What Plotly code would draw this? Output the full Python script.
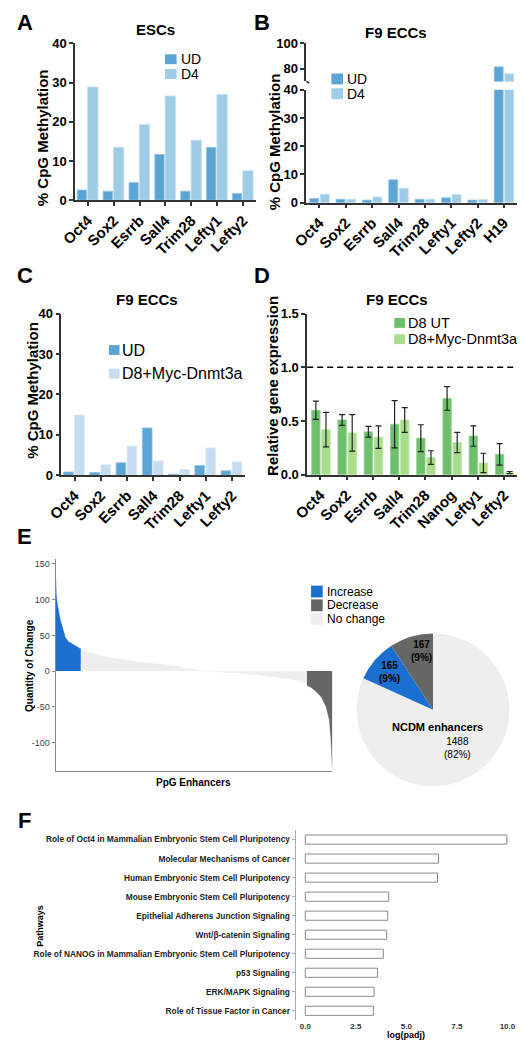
import plotly.graph_objects as go

# ---------------- data ----------------
genes_a = ["Oct4", "Sox2", "Esrrb", "Sall4", "Trim28", "Lefty1", "Lefty2"]
esc_ud = [2.6, 2.3, 4.5, 11.7, 2.3, 13.5, 1.7]
esc_d4 = [28.9, 13.5, 19.3, 26.6, 15.3, 27.0, 7.5]

genes_b = ["Oct4", "Sox2", "Esrrb", "Sall4", "Trim28", "Lefty1", "Lefty2", "H19"]
f9_ud = [1.5, 1.2, 0.9, 8.1, 1.2, 1.7, 0.9, 81.5]
f9_d4 = [3.0, 1.2, 2.0, 5.1, 1.2, 2.9, 1.1, 76.0]

genes_c = ["Oct4", "Sox2", "Esrrb", "Sall4", "Trim28", "Lefty1", "Lefty2"]
c_ud = [0.8, 0.65, 3.1, 11.7, 0.25, 2.4, 1.1]
c_d8 = [14.9, 2.6, 7.2, 3.5, 1.4, 6.75, 3.3]

genes_d = ["Oct4", "Sox2", "Esrrb", "Sall4", "Trim28", "Nanog", "Lefty1", "Lefty2"]
d_ut = [0.60, 0.51, 0.40, 0.47, 0.34, 0.71, 0.36, 0.19]
d_ut_err = [0.085, 0.05, 0.05, 0.22, 0.125, 0.11, 0.095, 0.10]
d_myc = [0.42, 0.39, 0.35, 0.51, 0.16, 0.30, 0.11, 0.02]
d_myc_err = [0.16, 0.17, 0.105, 0.115, 0.063, 0.095, 0.09, 0.01]

# panel E: sorted change of PpG enhancers (index along x, quantity of change)
inc_idx = [0, 2, 4, 10, 21, 30, 42, 52, 64, 85, 116, 140, 165]
inc_val = [130, 115, 108, 95, 81, 72, 63, 55, 47, 41, 37, 34, 31]
none_idx = [165, 200, 265, 350, 450, 562, 689, 795, 880, 960, 1050, 1113, 1219, 1325, 1431, 1537, 1600, 1653]
none_val = [29, 27, 23, 19, 15.5, 13, 9.5, 6.5, 3.5, 0.5, -0.8, -1.5, -3, -5, -7.5, -11, -14, -18]
dec_idx = [1653, 1680, 1704, 1747, 1779, 1800, 1811, 1817, 1820]
dec_val = [-20, -23, -27, -36, -50, -68, -96, -128, -135]

# pie: NCDM enhancers (clockwise from 12 o'clock)
pie_labels = ["No change", "Increase", "Decrease"]
pie_values = [1488, 165, 167]
pie_text = ["1488<br>(82%)", "165<br>(9%)", "167<br>(9%)"]

pathways = [
    "Role of Oct4 in Mammalian Embryonic Stem Cell Pluripotency",
    "Molecular Mechanisms of Cancer",
    "Human Embryonic Stem Cell Pluripotency",
    "Mouse Embryonic Stem Cell Pluripotency",
    "Epithelial Adherens Junction Signaling",
    "Wnt/β-catenin Signaling",
    "Role of NANOG in Mammalian Embryonic Stem Cell Pluripotency",
    "p53 Signaling",
    "ERK/MAPK Signaling",
    "Role of Tissue Factor in Cancer",
]
log_padj = [9.97, 6.59, 6.54, 4.13, 4.08, 4.03, 3.86, 3.57, 3.40, 3.37]

# ---------------- helpers ----------------
W, H = 524, 1050
FONT = "Arial, 'Liberation Sans', Helvetica, sans-serif"


def fx(p):
    return p / W


def fy(p):
    return 1 - p / H


C_UD = "#5ca4d4"
C_D4 = "#9ecbe5"
C_D8 = "#c6dcf0"
C_UT = "#6dbf6b"
C_MYC = "#a9dc8b"
C_INC = "#1a6fcf"
C_DEC = "#666666"
C_NONE = "#eeeeee"

fig = go.Figure()

# ---- A ----
fig.add_trace(go.Bar(x=genes_a, y=esc_ud, name="UD", xaxis="x", yaxis="y",
                     marker=dict(color=C_UD, line=dict(color="#8fc3e6", width=0.8)),
                     width=0.36, offset=-0.41, showlegend=False))
fig.add_trace(go.Bar(x=genes_a, y=esc_d4, name="D4", xaxis="x", yaxis="y",
                     marker=dict(color=C_D4, line=dict(color="#c3e0f0", width=0.8)),
                     width=0.40, offset=-0.01, showlegend=False))

# ---- B (broken axis) ----
for ya in ["y2", "y3"]:
    fig.add_trace(go.Bar(x=genes_b, y=f9_ud, name="UD", xaxis="x2", yaxis=ya,
                         marker=dict(color=C_UD, line=dict(color="#8fc3e6", width=0.8)),
                         width=0.34, offset=-0.37, showlegend=False))
    fig.add_trace(go.Bar(x=genes_b, y=f9_d4, name="D4", xaxis="x2", yaxis=ya,
                         marker=dict(color=C_D4, line=dict(color="#c3e0f0", width=0.8)),
                         width=0.34, offset=0.03, showlegend=False))

# ---- C ----
fig.add_trace(go.Bar(x=genes_c, y=c_ud, name="UD", xaxis="x3", yaxis="y4",
                     marker=dict(color=C_UD, line=dict(color="#8fc3e6", width=0.8)),
                     width=0.37, offset=-0.42, showlegend=False))
fig.add_trace(go.Bar(x=genes_c, y=c_d8, name="D8+Myc-Dnmt3a", xaxis="x3", yaxis="y4",
                     marker=dict(color=C_D8, line=dict(color="#dbe9f6", width=0.8)),
                     width=0.37, offset=0.0, showlegend=False))

# ---- D ----
fig.add_trace(go.Bar(x=genes_d, y=d_ut, name="D8 UT", xaxis="x4", yaxis="y5",
                     marker=dict(color=C_UT, line=dict(color="#93d191", width=0.8)),
                     width=0.32, offset=-0.33,
                     error_y=dict(type="data", array=d_ut_err, color="#222", thickness=1.2, width=3),
                     showlegend=False))
fig.add_trace(go.Bar(x=genes_d, y=d_myc, name="D8+Myc-Dnmt3a", xaxis="x4", yaxis="y5",
                     marker=dict(color=C_MYC, line=dict(color="#c4e8b0", width=0.8)),
                     width=0.33, offset=0.05,
                     error_y=dict(type="data", array=d_myc_err, color="#222", thickness=1.2, width=3),
                     showlegend=False))

# ---- E area ----
fig.add_trace(go.Scatter(x=none_idx, y=none_val, xaxis="x5", yaxis="y6", mode="lines",
                         fill="tozeroy", fillcolor=C_NONE, line=dict(color=C_NONE, width=0.5),
                         name="No change", showlegend=False))
fig.add_trace(go.Scatter(x=inc_idx, y=inc_val, xaxis="x5", yaxis="y6", mode="lines",
                         fill="tozeroy", fillcolor=C_INC, line=dict(color=C_INC, width=0.5),
                         name="Increase", showlegend=False))
fig.add_trace(go.Scatter(x=dec_idx, y=dec_val, xaxis="x5", yaxis="y6", mode="lines",
                         fill="tozeroy", fillcolor=C_DEC, line=dict(color=C_DEC, width=0.5),
                         name="Decrease", showlegend=False))

# ---- E pie ----
fig.add_trace(go.Pie(labels=pie_labels, values=pie_values, sort=False,
                     direction="clockwise", rotation=0,
                     marker=dict(colors=[C_NONE, C_INC, C_DEC], line=dict(width=0)),
                     textinfo="none", hoverinfo="label+value+percent",
                     domain=dict(x=[fx(353), fx(511)], y=[fy(792), fy(634)]),
                     showlegend=False))

# ---- F ----
fig.add_trace(go.Bar(x=log_padj, y=pathways, orientation="h", xaxis="x6", yaxis="y7",
                     marker=dict(color="white", line=dict(color="#8a8a8a", width=1)),
                     width=0.48, showlegend=False))

# ---------------- axes ----------------
TICK = 13


def xcat(domain, anchor, n):
    return dict(domain=domain, anchor=anchor, type="category", range=[-0.5, n - 0.5],
                showline=True, linecolor="#333", linewidth=1.5, ticks="outside",
                ticklen=4, tickwidth=1.5, tickcolor="#333", tickangle=-45,
                tickfont=dict(family=FONT, size=15, color="black", weight="bold"),
                showgrid=False, zeroline=False)


def ylin(domain, anchor, rng, tickvals, fmt=None):
    d = dict(domain=domain, anchor=anchor, range=rng, tickvals=tickvals,
             showline=True, linecolor="#333", linewidth=1.5, ticks="outside",
             ticklen=4, tickwidth=1.5, tickcolor="#333",
             tickfont=dict(family=FONT, size=TICK, color="black", weight="bold"),
             showgrid=False, zeroline=False)
    if fmt:
        d["tickformat"] = fmt
    return d


layout_axes = dict(
    xaxis=xcat([fx(62), fx(249)], "y", 7),
    yaxis=ylin([fy(196), fy(37)], "x", [0, 40], [0, 10, 20, 30, 40]),
    xaxis2=xcat([fx(301), fx(519)], "y2", 8),
    yaxis2=ylin([fy(198.5), fy(84)], "x2", [0, 40], [0, 10, 20, 30, 40]),
    yaxis3=ylin([fy(75.5), fy(37)], "x2", [70, 100], [80, 100]),
    xaxis3=xcat([fx(48), fx(238)], "y4", 7),
    yaxis4=ylin([fy(475), fy(311)], "x3", [0, 40], [0, 10, 20, 30, 40]),
    xaxis4=xcat([fx(302), fx(519)], "y5", 8),
    yaxis5=ylin([fy(474.5), fy(311)], "x4", [0, 1.5], [0, 0.5, 1.0, 1.5], ".1f"),
    xaxis5=dict(domain=[fx(42), fx(328)], anchor="y6", range=[0, 1820], showline=True,
                linecolor="#888", linewidth=1, showticklabels=False, ticks="",
                showgrid=False, zeroline=False),
    yaxis6=dict(domain=[fy(775), fy(560)], anchor="x5", range=[-140, 157],
                tickvals=[-100, -50, 0, 50, 100, 150],
                ticktext=["-100", "-50", "0", "50", "100", "150"],
                showline=True, linecolor="#888", linewidth=1, ticks="outside",
                ticklen=3, tickcolor="#888",
                tickfont=dict(family=FONT, size=9, color="#444"),
                showgrid=False, zeroline=False),
    xaxis6=dict(domain=[fx(290), fx(515)], anchor="y7", range=[-0.48, 10.29],
                tickvals=[0, 2.5, 5, 7.5, 10], ticktext=["0.0", "2.5", "5.0", "7.5", "10.0"],
                showline=False, ticks="", showgrid=False, zeroline=False,
                tickfont=dict(family=FONT, size=8, color="#333", weight="bold")),
    yaxis7=dict(domain=[fy(1028), fy(835)], anchor="x6", type="category",
                categoryorder="array", categoryarray=pathways, range=[9.5, -0.5],
                showline=True, linecolor="#aaa", linewidth=1, ticks="outside",
                ticklen=3, tickcolor="#aaa", showgrid=False, zeroline=False,
                tickfont=dict(family=FONT, size=8.3, color="#222", weight="bold")),
)

# ---------------- annotations ----------------
ann = []


def text(x, y, s, size, bold=False, color="black", xanchor="center", angle=0):
    ann.append(dict(x=fx(x), y=fy(y), xref="paper", yref="paper", text=s,
                    showarrow=False, xanchor=xanchor, yanchor="middle", textangle=angle,
                    font=dict(family=FONT, size=size, color=color,
                              weight="bold" if bold else "normal")))


# panel letters
for L, x, y in [("A", 10, 16), ("B", 255, 16), ("C", 10, 272), ("D", 255, 272),
                ("E", 10, 537), ("F", 10, 825)]:
    text(x, y, L, 22, bold=True)

# titles
text(145, 23, "ESCs", 15, bold=True)
text(394, 26, "F9 ECCs", 15, bold=True)
text(136, 297, "F9 ECCs", 15, bold=True)
text(395, 297, "F9 ECCs", 15, bold=True)

# axis titles
text(28, 133, "% CpG Methylation", 15, bold=True, angle=-90)
text(268, 137, "% CpG Methylation", 15, bold=True, angle=-90)
text(18, 389, "% CpG Methylation", 15, bold=True, angle=-90)
text(266, 384, "Relative gene expression", 15, bold=True, angle=-90)
text(15, 668, "Quantity of Change", 10, bold=True, angle=-90)
text(185, 787, "PpG Enhancers", 10, bold=True)
text(25, 932, "Pathways", 9, bold=True, angle=-90)
text(404, 1043, "log(padj)", 9, bold=True)

# pie labels
text(420, 653, pie_text[2], 10, bold=True)
text(387, 675, pie_text[1], 10, bold=True)
text(437, 730, "NCDM enhancers", 11, bold=True)
text(457, 752, pie_text[0], 10)

# ---------------- legends (drawn) ----------------
shapes = []


def legend_item(x, y, w, h, color, label, size, gap=2):
    shapes.append(dict(type="rect", xref="paper", yref="paper",
                       x0=fx(x), x1=fx(x + w), y0=fy(y + h / 2), y1=fy(y - h / 2),
                       fillcolor=color, line=dict(width=0)))
    text(x + w + gap, y, label, size, xanchor="left")


legend_item(155, 53, 12, 10, C_UD, "UD", 14)
legend_item(155, 68, 12, 10, C_D4, "D4", 14)
legend_item(327, 73, 12, 11, C_UD, "UD", 14)
legend_item(327, 88, 12, 11, C_D4, "D4", 14)
legend_item(97, 348, 11, 10, C_UD, "UD", 16, gap=1)
legend_item(97, 372, 11, 10, C_D8, "D8+Myc-Dnmt3a", 16, gap=1)
legend_item(392, 320.5, 11, 10, C_UT, "D8 UT", 14.5, gap=1)
legend_item(392, 337, 11, 10, C_MYC, "D8+Myc-Dnmt3a", 14.5, gap=1)
legend_item(306, 593, 12, 12, C_INC, "Increase", 12)
legend_item(306, 607, 12, 12, C_DEC, "Decrease", 12)
legend_item(306, 621, 12, 12, C_NONE, "No change", 12)

# dashed reference line in D
shapes.append(dict(type="line", xref="x4 domain", yref="y5", x0=0, x1=1, y0=1.0, y1=1.0,
                   line=dict(color="black", width=1.5, dash="6px,4px")))
# axis break mark in B
shapes.append(dict(type="path", xref="paper", yref="paper",
                   path=f"M {fx(301)},{fy(75.5)} Q {fx(303)},{fy(76)} {fx(304)},{fy(77.5)}",
                   line=dict(color="#333", width=1.5)))

fig.update_layout(
    width=W, height=H, margin=dict(l=0, r=0, t=0, b=0),
    paper_bgcolor="white", plot_bgcolor="white",
    barmode="overlay", font=dict(family=FONT, color="black"),
    annotations=ann, shapes=shapes, showlegend=False,
    **layout_axes,
)

fig.write_html(
    "out.html",
    config={"displayModeBar": False},
    post_script="document.body.style.margin='0';document.body.style.padding='0';"
                "document.documentElement.style.overflow='hidden';",
)
